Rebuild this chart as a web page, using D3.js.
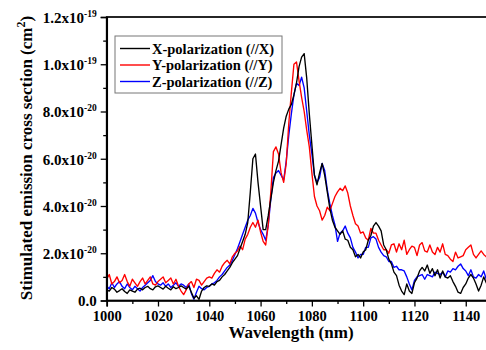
<!DOCTYPE html>
<html>
<head>
<meta charset="utf-8">
<script src="https://cdn.jsdelivr.net/npm/d3@7"></script>
<style>
  body { margin: 0; background: #fff; }
  svg text { font-family: "Liberation Serif", "Times New Roman", serif; font-weight: bold; }
</style>
</head>
<body>
<svg width="486" height="350"></svg>
<script>
// wavelengths 1000..1150 nm, 1 nm step; values in units of 1e-20 cm^2
const startWl = 1000;

const xPol = [
  0.45, 0.40, 0.55, 0.48, 0.35, 0.42, 0.50, 0.38, 0.30, 0.45,
  0.40, 0.35, 0.48, 0.52, 0.45, 0.55, 0.60, 0.50, 0.45, 0.58,
  0.62, 0.55, 0.48, 0.60, 0.52, 0.45, 0.58, 0.50, 0.55, 0.62,
  0.55, 0.48, 0.60, 0.35, 0.10, 0.20, 0.05, 0.40, 0.55, 0.62,
  0.60, 0.70, 0.65, 0.80, 0.85, 1.00, 1.10, 1.25, 1.40, 1.60,
  1.75, 1.90, 2.20, 2.50, 2.80, 3.30, 4.60, 6.00, 6.20, 5.00,
  4.00, 3.00, 3.00, 3.60, 4.30, 5.00, 5.50, 5.90, 6.60, 7.30,
  7.80, 8.10, 8.30, 8.70, 9.20, 9.90, 10.30, 10.45, 9.40, 7.90,
  6.60, 5.30, 4.90, 5.40, 5.80, 5.30, 4.60, 3.90, 3.40, 3.10,
  2.95, 2.80, 2.95, 2.60, 2.55, 2.25, 2.15, 1.85, 1.95, 1.80,
  2.05, 2.15, 2.55, 2.75, 3.15, 3.30, 3.15, 2.95, 2.35, 2.15,
  1.75, 1.55, 1.20, 1.05, 0.65, 0.40, 0.25, 0.70, 0.40, 0.30,
  0.75, 0.95, 1.25, 1.40, 1.25, 1.50, 1.15, 1.35, 1.05, 1.30,
  0.95, 1.25, 1.00, 0.95, 1.05, 0.80, 0.60, 0.35, 0.30, 0.55,
  0.70, 0.95, 1.10, 0.95, 0.70, 0.40, 0.65, 1.00, 0.75, 0.50,
  0.65
];

const yPol = [
  0.90, 1.10, 0.70, 0.80, 1.00, 0.75, 0.85, 1.10, 0.80, 0.60,
  0.90, 0.75, 0.60, 0.80, 0.95, 0.70, 0.85, 1.00, 0.70, 0.65,
  0.80, 0.90, 1.00, 0.75, 0.85, 0.95, 0.70, 0.90, 0.60, 0.40,
  0.25, 0.45, 0.70, 0.80, 0.55, 0.90, 0.85, 0.65, 0.80, 0.95,
  1.00, 0.95, 1.15, 1.30, 1.20, 1.45, 1.60, 1.70, 1.55, 1.85,
  2.00, 2.10, 2.30, 2.15, 2.60, 2.80, 3.10, 3.30, 3.10, 3.40,
  2.90, 2.50, 2.35, 3.20, 4.60, 6.30, 6.50, 6.20, 5.40, 5.00,
  5.80, 7.50, 8.80, 10.00, 10.10, 9.30, 8.60, 8.00, 7.20, 6.50,
  5.40, 4.40, 4.00, 3.80, 3.40, 3.60, 3.95, 3.80, 4.10, 4.40,
  4.60, 4.75, 4.65, 4.85, 4.55, 4.00, 3.60, 3.25, 3.15, 2.85,
  2.90, 2.65, 2.55, 3.05, 2.85, 2.85, 2.55, 2.35, 2.15, 2.15,
  2.00, 2.35, 2.40, 2.05, 2.40, 2.15, 2.55, 1.95, 2.15, 2.30,
  2.25, 1.90, 2.35, 2.45, 2.10, 2.05, 2.35, 2.05, 1.95, 2.25,
  2.05, 2.40, 1.95, 1.90, 1.75, 1.65, 2.05, 1.80, 1.85, 1.90,
  2.15, 2.25, 2.35, 1.95, 1.80, 1.95, 2.10, 1.95, 1.85, 1.65,
  1.85
];

const zPol = [
  0.60, 0.50, 0.75, 0.55, 0.70, 0.80, 0.60, 0.50, 0.70, 0.55,
  0.45, 0.60, 0.50, 0.40, 0.55, 0.65, 0.75, 0.85, 1.05, 0.80,
  0.70, 0.65, 0.75, 0.60, 0.70, 0.55, 0.65, 0.75, 0.60, 0.70,
  0.65, 0.55, 0.70, 0.30, 0.05, 0.35, 0.60, 0.50, 0.45, 0.55,
  0.60, 0.70, 0.75, 0.85, 1.00, 1.10, 1.25, 1.40, 1.50, 1.70,
  1.95, 2.20, 2.50, 2.80, 3.10, 3.40, 3.60, 3.90, 3.70, 3.30,
  3.00, 2.80, 2.55, 3.20, 4.30, 5.20, 5.40, 5.50, 5.30, 5.10,
  5.90, 7.00, 7.90, 8.70, 9.20, 9.10, 9.45, 9.00, 8.00, 7.00,
  6.20, 5.30, 5.00, 5.20, 5.80, 5.50, 4.70, 4.10, 3.60, 3.20,
  2.50, 2.85, 2.95, 3.15, 2.85, 2.65, 2.25, 2.05, 1.80, 1.95,
  1.95, 2.25, 2.25, 2.65, 2.70, 2.60, 2.25, 2.05, 1.90, 1.85,
  1.65, 1.65, 1.40, 1.45, 1.30, 1.30, 1.25, 1.00, 0.70, 0.45,
  0.85, 1.00, 1.05, 1.10, 0.90, 1.10, 1.05, 1.00, 1.20, 1.15,
  1.10, 1.20, 1.00, 1.25, 1.20, 1.35, 1.30, 1.45, 1.55, 1.35,
  1.25, 1.05, 1.30, 1.00, 0.95, 1.10, 1.00, 1.25, 0.90, 0.85,
  1.00
];

const seriesNames = ["X-polarization (//X)", "Y-polarization (//Y)", "Z-polarization (//Z)"];
const seriesColors = ["#000000", "#ff0000", "#0000ff"];
const xTicks = [1000, 1020, 1040, 1060, 1080, 1100, 1120, 1140];
const yTicks = [0, 2, 4, 6, 8, 10, 12];

const svg = d3.select("svg");

const mLeft = 106.7, mRight = 491.4, mTop = 17, mBottom = 300.5;

const x = d3.scaleLinear().domain([1000, 1150]).range([mLeft, mRight]);
const y = d3.scaleLinear().domain([0, 12]).range([mBottom, mTop]);

svg.append("defs").append("clipPath").attr("id", "clip")
  .append("rect").attr("x", mLeft).attr("y", mTop).attr("width", mRight - mLeft).attr("height", mBottom - mTop);

const line = d3.line()
  .x((d, i) => x(startWl + i))
  .y(d => y(d));

const plot = svg.append("g").attr("clip-path", "url(#clip)");
// blue drawn first, then red, black on top
[[zPol, 2], [yPol, 1], [xPol, 0]].forEach(([vals, k]) => {
  plot.append("path")
    .datum(vals)
    .attr("fill", "none")
    .attr("stroke", seriesColors[k])
    .attr("stroke-width", 1.35)
    .attr("stroke-linejoin", "round")
    .attr("d", line);
});

// frame
svg.append("rect")
  .attr("x", mLeft).attr("y", mTop)
  .attr("width", mRight - mLeft).attr("height", mBottom - mTop)
  .attr("fill", "none").attr("stroke", "#000").attr("stroke-width", 1.7);

// x axis
const xAxis = svg.append("g").attr("transform", `translate(0,${mBottom})`)
  .call(d3.axisBottom(x).tickValues(xTicks).tickSize(6).tickPadding(4).tickFormat(d3.format("d")));
svg.append("g").attr("transform", `translate(0,${mBottom})`)
  .call(d3.axisBottom(x).tickValues(d3.range(1010, 1151, 20)).tickSize(3.5).tickFormat(""))
  .call(g => g.select(".domain").remove());

// y axis
const fmtY = v => v === 0 ? ["0.0", ""] : v < 10 ? [v.toFixed(1) + "x10", "-20"] : [(v / 10).toFixed(1) + "x10", "-19"];
const yAxis = svg.append("g").attr("transform", `translate(${mLeft},0)`)
  .call(d3.axisLeft(y).tickValues(yTicks).tickSize(6).tickPadding(4).tickFormat(""));
svg.append("g").attr("transform", `translate(${mLeft},0)`)
  .call(d3.axisLeft(y).tickValues([1, 3, 5, 7, 9, 11]).tickSize(3.5).tickFormat(""))
  .call(g => g.select(".domain").remove());

yAxis.selectAll(".tick text").each(function(d) {
  const [main, sup] = fmtY(d);
  const t = d3.select(this).attr("x", -10).attr("dy", "0.35em");
  t.append("tspan").text(main);
  if (sup) t.append("tspan").attr("dy", "-6").attr("font-size", 9.5).text(sup);
});

xAxis.selectAll("text").attr("font-size", 14.5);
yAxis.selectAll("text").attr("font-size", 15);
[xAxis, yAxis].forEach(g => {
  g.selectAll("text").attr("fill", "#000")
    .attr("font-family", "Liberation Serif").attr("font-weight", "bold");
  g.select(".domain").attr("stroke-width", 1.7);
});
svg.selectAll(".tick line").attr("stroke-width", 1.3);

// axis titles
svg.append("text")
  .attr("x", 291).attr("y", 338)
  .attr("text-anchor", "middle").attr("font-size", 17)
  .text("Wavelength (nm)");

const yt = svg.append("text")
  .attr("transform", "translate(32,158) rotate(-90)")
  .attr("text-anchor", "middle").attr("font-size", 17);
yt.append("tspan").text("Stimulated emission cross section (cm");
yt.append("tspan").attr("dy", -7).attr("font-size", 12).text("2");
yt.append("tspan").attr("dy", 7).text(")");

// legend
const lg = svg.append("g");
lg.append("rect")
  .attr("x", 115).attr("y", 36).attr("width", 167).attr("height", 57)
  .attr("fill", "#fff").attr("stroke", "#777").attr("stroke-width", 1);
const rowsY = [48.5, 65, 81.5];
seriesNames.forEach((name, i) => {
  lg.append("line")
    .attr("x1", 120).attr("x2", 150).attr("y1", rowsY[i]).attr("y2", rowsY[i])
    .attr("stroke", seriesColors[i]).attr("stroke-width", 1.4);
  lg.append("text")
    .attr("x", 152).attr("y", rowsY[i]).attr("dy", "0.35em")
    .attr("font-size", 14.5).text(name);
});
</script>
</body>
</html>
